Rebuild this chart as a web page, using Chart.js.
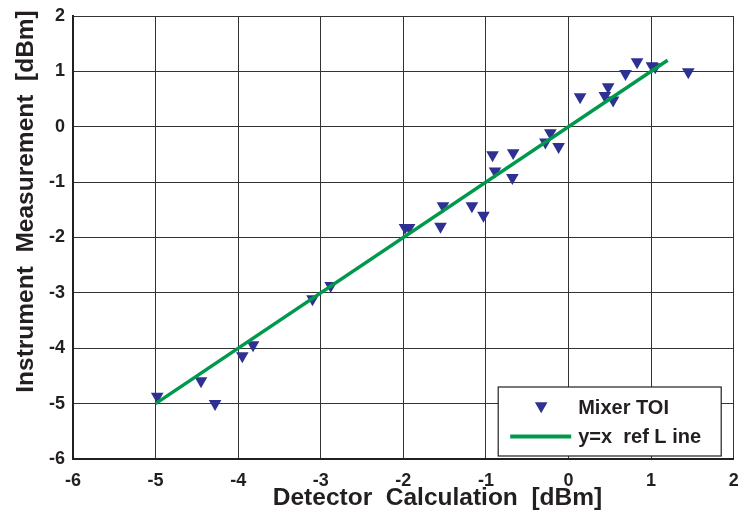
<!DOCTYPE html>
<html>
<head>
    <title>Mixer TOI</title>
    <script src="https://cdn.jsdelivr.net/npm/chart.js"></script>
    <style>
        body { margin: 0; background: #fff; }
    </style>
</head>
<body>
    <canvas id="toiChart" width="741" height="517"></canvas>

    <script>
        // measured points: detector calculation (x) vs instrument measurement (y), dBm
        const detectorCalc = [-4.98, -4.45, -4.28, -3.95, -3.82, -3.10, -2.88, -1.98, -1.93, -1.55,
                              -1.52, -1.17, -1.03, -0.92, -0.89, -0.67, -0.68, -0.22, -0.28, -0.12,
                              0.14, 0.48, 0.44, 0.54, 0.69, 0.83, 1.01, 1.05, 1.45];
        const instrumentMeas = [-4.87, -4.59, -5.00, -4.14, -3.94, -3.11, -2.87, -1.82, -1.82, -1.80,
                                -1.43, -1.43, -1.60, -0.51, -0.80, -0.47, -0.92, -0.11, -0.28, -0.36,
                                0.54, 0.72, 0.56, 0.48, 0.96, 1.17, 1.10, 1.08, 0.99];
        // y = x reference line end points
        const refLineX = [-5, 1.2];
        const refLineY = [-5, 1.2];
        const axisTicks = [-6, -5, -4, -3, -2, -1, 0, 1, 2];

        const xTitle = 'Detector  Calculation  [dBm]';
        const yTitle = 'Instrument  Measurement  [dBm]';
        const legendLabels = ['Mixer TOI', 'y=x  ref L ine'];

        const blue = '#2e3192';
        const green = '#00994c';
        const fontFamily = '"Liberation Sans", Arial, sans-serif';

        const toiPoints = detectorCalc.map((x, i) => ({ x: x, y: instrumentMeas[i] }));
        const refPoints = refLineX.map((x, i) => ({ x: x, y: refLineY[i] }));

        // titles and in-plot legend box
        const overlay = {
            id: 'overlay',
            afterDraw(chart) {
                const ctx = chart.ctx;
                const area = chart.chartArea;
                ctx.save();
                ctx.fillStyle = '#231f20';
                ctx.textAlign = 'center';
                ctx.textBaseline = 'alphabetic';
                ctx.font = 'bold 24.5px ' + fontFamily;
                ctx.fillText(xTitle, 437.5, 505);
                ctx.save();
                ctx.translate(33, 201.5);
                ctx.rotate(-Math.PI / 2);
                ctx.fillText(yTitle, 0, 0);
                ctx.restore();

                // legend
                const bx = area.right - 235.5, by = area.bottom - 72;
                ctx.fillStyle = '#fff';
                ctx.fillRect(bx, by, 223, 69);
                ctx.strokeStyle = '#231f20';
                ctx.lineWidth = 1.2;
                ctx.strokeRect(bx, by, 223, 69);

                ctx.fillStyle = blue;
                Chart.helpers.drawPoint(ctx, { pointStyle: 'triangle', rotation: 180, radius: 7.3, borderWidth: 0 }, bx + 43, by + 19);

                ctx.strokeStyle = green;
                ctx.lineWidth = 4;
                ctx.beginPath();
                ctx.moveTo(bx + 12, by + 49.5);
                ctx.lineTo(bx + 73, by + 49.5);
                ctx.stroke();

                ctx.fillStyle = '#231f20';
                ctx.textAlign = 'left';
                ctx.font = 'bold 20px ' + fontFamily;
                ctx.fillText(legendLabels[0], bx + 80, by + 27);
                ctx.fillText(legendLabels[1], bx + 80, by + 56);
                ctx.restore();
            }
        };

        const tickFont = { family: fontFamily, size: 18, weight: 'bold' };

        new Chart(document.getElementById('toiChart').getContext('2d'), {
            type: 'scatter',
            data: {
                datasets: [{
                    label: legendLabels[0],
                    data: toiPoints,
                    pointStyle: 'triangle',
                    rotation: 180,
                    pointRadius: 7.3,
                    pointHoverRadius: 7.3,
                    backgroundColor: blue,
                    borderWidth: 0,
                    order: 2
                }, {
                    label: legendLabels[1],
                    data: refPoints,
                    showLine: true,
                    borderColor: green,
                    borderWidth: 3.5,
                    pointRadius: 0,
                    order: 1
                }]
            },
            options: {
                responsive: false,
                animation: false,
                layout: { padding: { top: 16, right: 6, left: 0, bottom: 0 } },
                plugins: {
                    legend: { display: false },
                    tooltip: { enabled: false }
                },
                scales: {
                    x: {
                        type: 'linear',
                        min: axisTicks[0],
                        max: axisTicks[axisTicks.length - 1],
                        afterBuildTicks: axis => { axis.ticks = axisTicks.map(v => ({ value: v })); },
                        afterFit: axis => {
                            axis.height = 58;
                            axis.paddingLeft = 0;
                            axis.paddingRight = 0;
                        },
                        ticks: { font: tickFont, color: '#231f20', padding: 11, maxRotation: 0 },
                        grid: { color: '#333', lineWidth: 1, drawTicks: false },
                        border: { color: '#231f20', width: 2 }
                    },
                    y: {
                        type: 'linear',
                        min: axisTicks[0],
                        max: axisTicks[axisTicks.length - 1],
                        afterBuildTicks: axis => { axis.ticks = axisTicks.map(v => ({ value: v })); },
                        afterFit: axis => {
                            axis.width = 73;
                            axis.paddingTop = 0;
                            axis.paddingBottom = 0;
                        },
                        ticks: { font: tickFont, color: '#231f20', padding: 8 },
                        grid: { color: '#333', lineWidth: 1, drawTicks: false },
                        border: { color: '#231f20', width: 2 }
                    }
                }
            },
            plugins: [overlay]
        });
    </script>
</body>
</html>
